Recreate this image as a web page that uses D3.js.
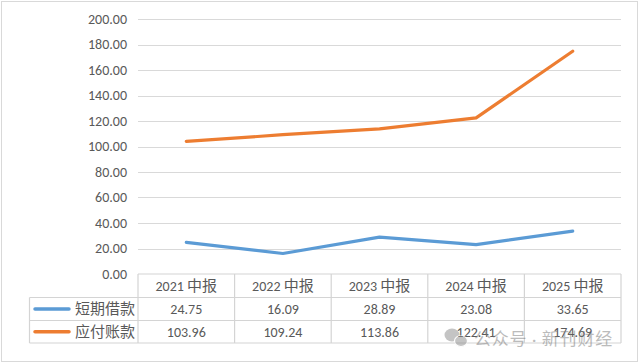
<!DOCTYPE html>
<html><head><meta charset="utf-8">
<script src="https://cdn.jsdelivr.net/npm/d3@7"></script>
<style>
html,body{margin:0;padding:0;background:#fff;}
text{font-family:Carlito,"Liberation Sans","Noto Sans CJK SC",sans-serif;fill:#595959;}
</style></head>
<body><svg id="c" width="640" height="364"></svg>
<script>
const categories = ["2021 中报","2022 中报","2023 中报","2024 中报","2025 中报"];
const seriesNames = ["短期借款","应付账款"];
const shortLoans = [24.75,16.09,28.89,23.08,33.65];
const payables = [103.96,109.24,113.86,122.41,174.69];
const yTicks = [0,20,40,60,80,100,120,140,160,180,200];
const colors = ["#5B9BD5","#ED7D31"];

(function(){
const svg = d3.select("#c");
svg.append("rect").attr("x",1.5).attr("y",1.5).attr("width",636).attr("height",360)
  .attr("fill","#fff").attr("stroke","#d9d9d9").attr("stroke-width",1);

const pL=138, pR=621, pT=19, pB=274;
const x = d3.scaleBand().domain(categories).range([pL,pR]);
const y = d3.scaleLinear().domain([0,200]).range([pB,pT]);

const gy = svg.append("g");
yTicks.forEach(t=>{
  if(t>0) gy.append("line").attr("x1",pL).attr("x2",pR).attr("y1",Math.round(y(t))+0.5).attr("y2",Math.round(y(t))+0.5)
    .attr("stroke","#d9d9d9").attr("stroke-width",1);
  gy.append("text").attr("x",127).attr("y",y(t)).attr("dy","0.35em").attr("text-anchor","end")
    .attr("font-size",14).text(d3.format(".2f")(t));
});

// table
const rowH = [274,297.5,320.5,343];
const tg = svg.append("g").attr("stroke","#d4d4d4").attr("stroke-width",1.2);
tg.append("line").attr("x1",pL).attr("x2",pR).attr("y1",rowH[0]).attr("y2",rowH[0]);
for(let i=1;i<4;i++) tg.append("line").attr("x1",29.5).attr("x2",pR).attr("y1",rowH[i]).attr("y2",rowH[i]);
tg.append("line").attr("x1",29.5).attr("x2",29.5).attr("y1",rowH[1]).attr("y2",rowH[3]);
categories.forEach(c=>{
  tg.append("line").attr("x1",x(c)).attr("x2",x(c)).attr("y1",rowH[0]).attr("y2",rowH[3]);
});
tg.append("line").attr("x1",pR).attr("x2",pR).attr("y1",rowH[0]).attr("y2",rowH[3]);

categories.forEach(c=>{
  const parts = c.split(" ");
  const t = svg.append("text").attr("x",x(c)+x.bandwidth()/2).attr("y",(rowH[0]+rowH[1])/2).attr("dy","0.35em")
    .attr("text-anchor","middle").attr("font-size",14);
  t.append("tspan").text(parts[0]+" ");
  t.append("tspan").attr("font-size",15).attr("font-family","Noto Sans CJK SC").text(parts[1]);
});
[shortLoans,payables].forEach((vals,si)=>{
  const cy=(rowH[si+1]+rowH[si+2])/2;
  svg.append("line").attr("x1",35).attr("x2",69).attr("y1",cy).attr("y2",cy)
    .attr("stroke",colors[si]).attr("stroke-width",3.5).attr("stroke-linecap","round");
  svg.append("text").attr("x",75).attr("y",cy).attr("dy","0.35em").attr("font-size",15)
    .attr("font-family","Noto Sans CJK SC").text(seriesNames[si]);
  vals.forEach((v,i)=>{
    svg.append("text").attr("x",x(categories[i])+x.bandwidth()/2).attr("y",cy).attr("dy","0.35em")
      .attr("text-anchor","middle").attr("font-size",14).text(d3.format(".2f")(v));
  });
});

// lines
const line = d3.line().x((d,i)=>x(categories[i])+x.bandwidth()/2).y(d=>y(d));
[shortLoans,payables].forEach((vals,si)=>{
  svg.append("path").attr("d",line(vals)).attr("fill","none").attr("stroke",colors[si])
    .attr("stroke-width",3.2).attr("stroke-linejoin","round").attr("stroke-linecap","round");
});

// watermark
const wm = svg.append("g").attr("opacity",0.5);
wm.append("ellipse").attr("cx",452).attr("cy",335).attr("rx",7.5).attr("ry",6.5).attr("fill","#8a8a8a");
wm.append("ellipse").attr("cx",461).attr("cy",341).attr("rx",6.5).attr("ry",5.5).attr("fill","#8a8a8a").attr("stroke","#fff").attr("stroke-width",1.2);
wm.append("text").attr("x",474).attr("y",339).attr("dy","0.35em").attr("font-size",17).attr("letter-spacing",0.8)
  .style("fill","#7a7a7a").attr("font-family","Noto Sans CJK SC").text("公众号 · 新刊财经");
})();
</script></body></html>
